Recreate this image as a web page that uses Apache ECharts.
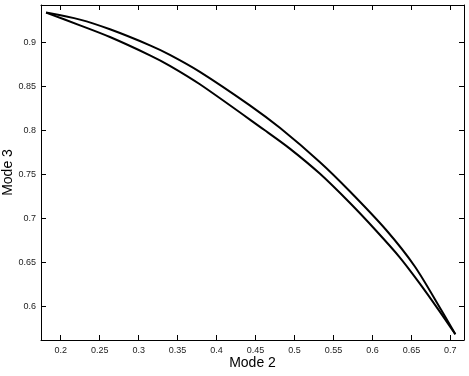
<!DOCTYPE html>
<html>
<head>
<meta charset="utf-8">
<script src="https://cdn.jsdelivr.net/npm/echarts@6/dist/echarts.min.js"></script>
<style>html,body{margin:0;padding:0;background:#fff}#c{width:469px;height:376px}</style>
</head>
<body>
<div id="c"></div>
<script>
var upperX = [0.1812, 0.2247, 0.2632, 0.3145, 0.3401, 0.3786, 0.4427, 0.4812, 0.5324, 0.5709, 0.6179, 0.6542, 0.6885, 0.7064];
var upperY = [0.9338, 0.9258, 0.9148, 0.8966, 0.8858, 0.8665, 0.8284, 0.8028, 0.7640, 0.7307, 0.6864, 0.6455, 0.5955, 0.5682];
var lowerX = [0.1812, 0.2247, 0.2632, 0.3145, 0.3401, 0.3786, 0.4619, 0.4940, 0.5324, 0.5709, 0.6042, 0.6350, 0.6606, 0.6862, 0.7064];
var lowerY = [0.9338, 0.9193, 0.9060, 0.8852, 0.8733, 0.8523, 0.8000, 0.7792, 0.7508, 0.7176, 0.6864, 0.6557, 0.6261, 0.5943, 0.5682];
var xTicks = [0.2, 0.25, 0.3, 0.35, 0.4, 0.45, 0.5, 0.55, 0.6, 0.65, 0.7];
var yTicks = [0.6, 0.65, 0.7, 0.75, 0.8, 0.85, 0.9];
var xLabel = 'Mode 2';
var yLabel = 'Mode 3';

function pairs(xs, ys) { return xs.map(function (x, i) { return [x, ys[i]]; }); }
var font = 'Liberation Sans, Arial, Helvetica, sans-serif';
var xMin = 0.1747, xMax = 0.7175, yMin = 0.5617, yMax = 0.9424;
function fmt(v) { return String(Math.round(v * 100) / 100); }
var tickCommon = { inside: true, length: 5, lineStyle: { color: '#000', width: 1 } };

var chart = echarts.init(document.getElementById('c'), null, { renderer: 'canvas' });
chart.setOption({
  animation: false,
  backgroundColor: '#fff',
  grid: { left: 41, right: 5, top: 5, bottom: 36, containLabel: false, outerBoundsMode: 'none' },
  xAxis: [{
    type: 'value', min: xMin, max: xMax, position: 'bottom',
    name: xLabel, nameLocation: 'middle', nameGap: 16, nameMoveOverlap: false,
    nameTextStyle: { fontFamily: font, fontSize: 14, color: '#000' },
    axisLine: { show: true, onZero: false, lineStyle: { color: '#000', width: 1 } },
    axisTick: Object.assign({ customValues: xTicks }, tickCommon),
    axisLabel: { customValues: xTicks, formatter: fmt, fontFamily: font, fontSize: 9, color: '#222', margin: 6 },
    splitLine: { show: false }
  }, {
    type: 'value', min: xMin, max: xMax, position: 'top',
    axisLine: { show: true, onZero: false, lineStyle: { color: '#000', width: 1 } },
    axisTick: Object.assign({ customValues: xTicks }, tickCommon),
    axisLabel: { show: false }, splitLine: { show: false }
  }],
  yAxis: [{
    type: 'value', min: yMin, max: yMax, position: 'left',
    name: yLabel, nameLocation: 'middle', nameGap: 26, nameRotate: 90, nameMoveOverlap: false,
    nameTextStyle: { fontFamily: font, fontSize: 14, color: '#000' },
    axisLine: { show: true, onZero: false, lineStyle: { color: '#000', width: 1 } },
    axisTick: Object.assign({ customValues: yTicks }, tickCommon),
    axisLabel: { customValues: yTicks, formatter: fmt, fontFamily: font, fontSize: 9, color: '#222', margin: 5 },
    splitLine: { show: false }
  }, {
    type: 'value', min: yMin, max: yMax, position: 'right',
    axisLine: { show: true, onZero: false, lineStyle: { color: '#000', width: 1 } },
    axisTick: Object.assign({ customValues: yTicks }, tickCommon),
    axisLabel: { show: false }, splitLine: { show: false }
  }],
  series: [{
    type: 'line', xAxisIndex: 0, yAxisIndex: 0, data: pairs(upperX, upperY),
    smooth: 0.3, showSymbol: false, lineStyle: { color: '#000', width: 2 }
  }, {
    type: 'line', xAxisIndex: 0, yAxisIndex: 0, data: pairs(lowerX, lowerY),
    smooth: 0.3, showSymbol: false, lineStyle: { color: '#000', width: 2 }
  }]
});
</script>
</body>
</html>
